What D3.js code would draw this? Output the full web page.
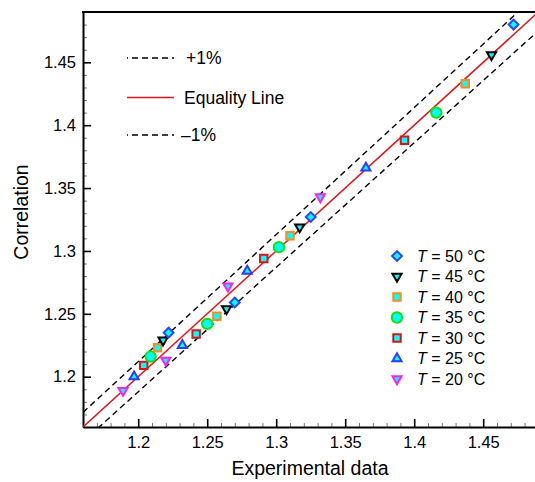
<!DOCTYPE html>
<html>
<head>
<meta charset="utf-8">
<script src="https://cdn.jsdelivr.net/npm/d3@7"></script>
<style>
  body { margin: 0; background: #fff; }
  text { font-family: "Liberation Sans", Arial, sans-serif; }
</style>
</head>
<body>
<svg id="chart" width="535" height="482"></svg>
<script>
// tick labels
const xTicks = [1.2, 1.25, 1.3, 1.35, 1.4, 1.45];
const yTicks = [1.2, 1.25, 1.3, 1.35, 1.4, 1.45];

// temperatures (legend order)
const temps = [50, 45, 40, 35, 30, 25, 20];

// experimental data (x) and correlation (y) per temperature
const exp50 = [1.222, 1.270, 1.325, 1.472];
const cor50 = [1.235, 1.259, 1.327, 1.480];
const exp45 = [1.218, 1.264, 1.317, 1.456];
const cor45 = [1.229, 1.254, 1.319, 1.456];
const exp40 = [1.214, 1.257, 1.310, 1.437];
const cor40 = [1.223, 1.248, 1.312, 1.433];
const exp35 = [1.209, 1.250, 1.302, 1.416];
const cor35 = [1.216, 1.242, 1.303, 1.410];
const exp30 = [1.204, 1.242, 1.291, 1.393];
const cor30 = [1.209, 1.234, 1.294, 1.388];
const exp25 = [1.197, 1.232, 1.279, 1.365];
const cor25 = [1.200, 1.225, 1.284, 1.366];
const exp20 = [1.189, 1.220, 1.265, 1.332];
const cor20 = [1.189, 1.213, 1.272, 1.343];

// marker style per temperature
const styles = {
  50: {shape: "diamond", stroke: "#2b45ff"},
  45: {shape: "down", stroke: "#000000"},
  40: {shape: "square", stroke: "#ff8a1c"},
  35: {shape: "circle", stroke: "#12e012"},
  30: {shape: "square", stroke: "#dc1418"},
  25: {shape: "up", stroke: "#2b3cff"},
  20: {shape: "down", stroke: "#ff1cff"}
};

const expByT = {50: exp50, 45: exp45, 40: exp40, 35: exp35, 30: exp30, 25: exp25, 20: exp20};
const corByT = {50: cor50, 45: cor45, 40: cor40, 35: cor35, 30: cor30, 25: cor25, 20: cor20};

const svg = d3.select("#chart");

const x = d3.scaleLinear([1.16, 1.49], [83, 538.4]);
const y = d3.scaleLinear([1.16, 1.49], [427, 12]);

const minor = d3.range(116, 150).map(v => v / 100).filter(v => !xTicks.some(t => Math.abs(t - v) < 1e-6));

// clip for the lines
svg.append("defs").append("clipPath").attr("id", "plot")
  .append("rect").attr("x", 83).attr("y", 12).attr("width", 460).attr("height", 415);

// minor ticks
svg.append("g")
    .attr("transform", `translate(0,${y.range()[0]})`)
    .call(d3.axisBottom(x).tickValues(minor).tickSize(-4).tickFormat(""))
    .call(g => g.select(".domain").remove())
    .call(g => g.selectAll(".tick line").attr("stroke", "#777"));
svg.append("g")
    .attr("transform", `translate(${x.range()[0]},0)`)
    .call(d3.axisLeft(y).tickValues(minor).tickSize(-4).tickFormat(""))
    .call(g => g.select(".domain").remove())
    .call(g => g.selectAll(".tick line").attr("stroke", "#777"));

// major axes
const xAxis = svg.append("g")
    .attr("transform", `translate(0,${y.range()[0]})`)
    .call(d3.axisBottom(x).tickValues(xTicks).tickSize(-8).tickSizeOuter(0).tickPadding(9).tickFormat(d => String(d)));
const yAxis = svg.append("g")
    .attr("transform", `translate(${x.range()[0]},0)`)
    .call(d3.axisLeft(y).tickValues(yTicks).tickSize(-8).tickSizeOuter(0).tickPadding(7).tickFormat(d => String(d)));
[xAxis, yAxis].forEach(g => {
  g.select(".domain").attr("stroke-width", 2);
  g.selectAll(".tick line").attr("stroke-width", 1.6);
  g.selectAll(".tick text").attr("font-size", 16.5).attr("fill", "#000")
    .style("font-family", "'Liberation Sans', Arial, sans-serif");
});
// top frame
svg.append("line")
    .attr("x1", x.range()[0] - 1).attr("x2", x.range()[1])
    .attr("y1", y.range()[1]).attr("y2", y.range()[1])
    .attr("stroke", "#000").attr("stroke-width", 2);

// equality and +-1% lines
const lineDefs = [
  {k: 1.01, color: "#000", dash: "6 4", w: 1.4},
  {k: 1.00, color: "#e0161b", dash: null, w: 1.5},
  {k: 0.99, color: "#000", dash: "6 4", w: 1.4}
];
const lines = svg.append("g").attr("clip-path", "url(#plot)");
lineDefs.forEach(d => {
  lines.append("line")
    .attr("x1", x(1.16)).attr("y1", y(1.16 * d.k))
    .attr("x2", x(1.49)).attr("y2", y(1.49 * d.k))
    .attr("stroke", d.color).attr("stroke-width", d.w)
    .attr("stroke-dasharray", d.dash);
});

// markers
function marker(sel, t) {
  const s = styles[t];
  let path, rot = 0;
  if (s.shape === "diamond") { path = d3.symbol(d3.symbolSquare, 48)(); rot = 45; }
  else if (s.shape === "square") path = d3.symbol(d3.symbolSquare, 56)();
  else if (s.shape === "circle") path = d3.symbol(d3.symbolCircle, 85)();
  else if (s.shape === "up") path = d3.symbol(d3.symbolTriangle, 36)();
  else { path = d3.symbol(d3.symbolTriangle, 36)(); rot = 180; }
  sel.append("path")
    .attr("d", path)
    .attr("transform", `rotate(${rot})`)
    .attr("fill", "#00ffff")
    .attr("stroke", s.stroke)
    .attr("stroke-width", 2);
}

const pts = svg.append("g");
temps.slice().reverse().forEach(t => {
  expByT[t].forEach((xv, i) => {
    const g = pts.append("g").attr("transform", `translate(${x(xv)},${y(corByT[t][i])})`);
    marker(g, t);
  });
});

// top-left legend
const leg1 = [
  {label: "+1%", color: "#000", dash: "6 4", y: 58, tx: 186},
  {label: "Equality Line", color: "#e0161b", dash: null, y: 97.5, tx: 184},
  {label: "\u20131%", color: "#000", dash: "6 4", y: 135, tx: 181}
];
leg1.forEach(d => {
  svg.append("line")
    .attr("x1", 127).attr("x2", 174).attr("y1", d.y).attr("y2", d.y)
    .attr("stroke", d.color).attr("stroke-width", d.dash ? 1.3 : 1.5)
    .attr("stroke-dasharray", d.dash).attr("stroke-dashoffset", d.dash ? 5 : null);
  svg.append("text")
    .attr("x", d.tx).attr("y", d.y).attr("dy", "0.35em")
    .attr("font-size", 17.5).text(d.label);
});

// temperature legend
const legY = d3.scalePoint(temps, [256, 379]);
temps.forEach(t => {
  const g = svg.append("g").attr("transform", `translate(397,${legY(t)})`);
  marker(g, t);
  const tx = svg.append("text")
    .attr("x", 417).attr("y", legY(t)).attr("dy", "0.35em")
    .attr("font-size", 16);
  tx.append("tspan").attr("font-style", "italic").text("T");
  tx.append("tspan").text(` = ${t} \u00b0C`);
});

// axis titles
svg.append("text")
    .attr("x", 310).attr("y", 475)
    .attr("text-anchor", "middle").attr("font-size", 19.5)
    .text("Experimental data");
svg.append("text")
    .attr("transform", "translate(28,212) rotate(-90)")
    .attr("text-anchor", "middle").attr("font-size", 19.5)
    .text("Correlation");
</script>
</body>
</html>
